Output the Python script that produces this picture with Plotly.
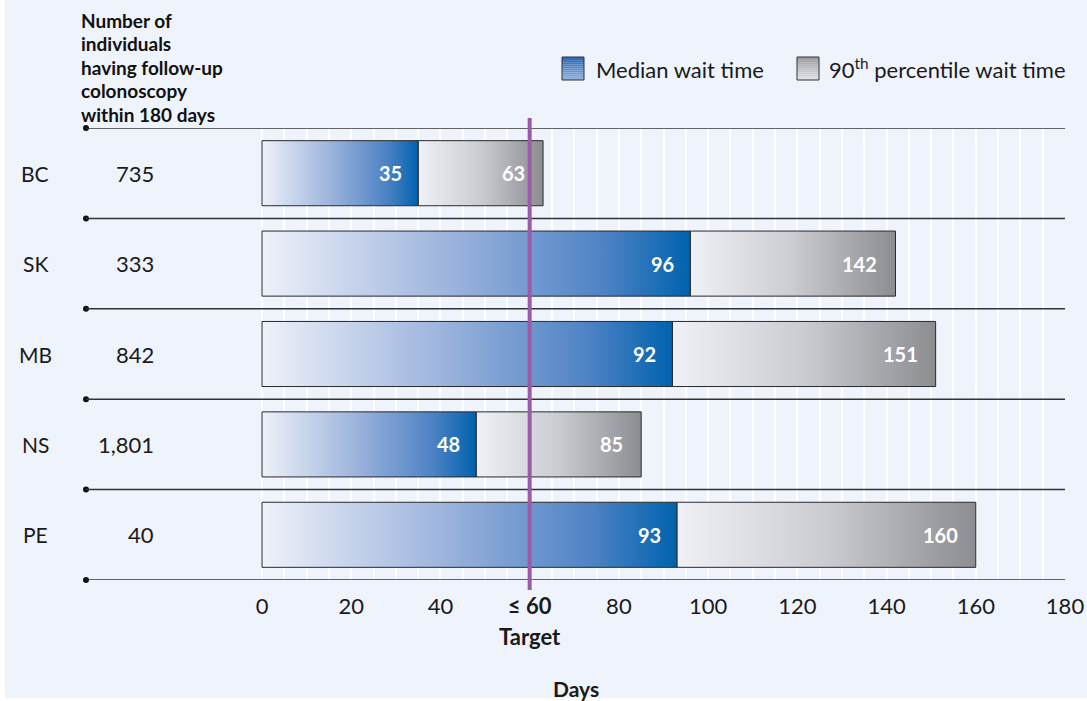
import plotly.graph_objects as go

# ---- data ----
provinces = ["BC", "SK", "MB", "NS", "PE"]
counts = ["735", "333", "842", "1,801", "40"]
median_wait = [35, 96, 92, 48, 93]
p90_wait = [63, 142, 151, 85, 160]
target_days = 60
x_ticks = [0, 20, 40, 60, 80, 100, 120, 140, 160, 180]
x_tick_text = ["0", "20", "40", "<b>≤ 60</b>", "80", "100", "120", "140", "160", "180"]
header_lines = ["Number of", "individuals", "having follow-up", "colonoscopy", "within 180 days"]

# ---- layout geometry (pixels) ----
W, H = 1087, 701
ML, MR, MT, MB = 86, 22, 128, 121
PW, PH = W - ML - MR, H - MT - MB
X_MIN = -(262 - ML) / ((1065 - 262) / 180)   # room on the left for labels
X_MAX = 180
BG = "#eff3fb"
FONT = "Lato"
TXT = "#1a1a1a"


def px_x(p):
    return (p - ML) / PW


def px_y(p):
    return (H - MB - p) / PH


BLUE_SCALE = [[0, "#eef1f9"], [0.45, "#9ab2dc"], [0.8, "#4d82c4"], [1, "#0062ae"]]
GRAY_SCALE = [[0, "#eff1f7"], [0.5, "#cbccd1"], [1, "#8c8d91"]]
HALF = 0.36

fig = go.Figure()

for i, (m, p) in enumerate(zip(median_wait, p90_wait)):
    y0, y1 = i - HALF, i + HALF
    # 90th percentile segment (from median to p90)
    fig.add_trace(go.Scatter(
        x=[m, p, p, m, m], y=[y0, y0, y1, y1, y0], mode="lines",
        fill="toself", fillgradient=dict(type="horizontal", colorscale=GRAY_SCALE),
        line=dict(color="#2a2a2a", width=1), hoverinfo="skip", showlegend=False))
    # median segment (from 0 to median)
    fig.add_trace(go.Scatter(
        x=[0, m, m, 0, 0], y=[y0, y0, y1, y1, y0], mode="lines",
        fill="toself", fillgradient=dict(type="horizontal", colorscale=BLUE_SCALE),
        line=dict(color="#2a2a2a", width=1), hoverinfo="skip", showlegend=False))

# dots at the left end of the row separators
sep_y = [i - 0.5 for i in range(len(provinces) + 1)]
fig.add_trace(go.Scatter(
    x=[X_MIN] * len(sep_y), y=sep_y, mode="markers",
    marker=dict(color="#111", size=6), cliponaxis=False,
    hoverinfo="skip", showlegend=False))

shapes = []
# page background with a thin white edge
shapes.append(dict(type="rect", xref="paper", yref="paper", layer="below",
                   x0=px_x(5), x1=px_x(W + 2), y0=px_y(698), y1=px_y(-2),
                   fillcolor=BG, line=dict(width=0)))
# row separators
for y in sep_y:
    shapes.append(dict(type="line", xref="paper", yref="y", x0=0, x1=1, y0=y, y1=y,
                       line=dict(color="#333", width=1.5), layer="above"))
# target line
shapes.append(dict(type="line", xref="x", yref="paper", x0=target_days, x1=target_days,
                   y0=px_y(590), y1=px_y(118), line=dict(color="#9b5ba6", width=4),
                   layer="above"))


# legend swatches with vertical gradient
def swatch(x0, top, colors):
    n = len(colors)
    h = 23 / n
    for k, c in enumerate(colors):
        shapes.append(dict(type="rect", xref="paper", yref="paper",
                           x0=px_x(x0), x1=px_x(x0 + 22),
                           y0=px_y(top + (k + 1) * h), y1=px_y(top + k * h),
                           fillcolor=c, line=dict(width=0)))
    shapes.append(dict(type="rect", xref="paper", yref="paper",
                       x0=px_x(x0), x1=px_x(x0 + 22), y0=px_y(top + 23), y1=px_y(top),
                       line=dict(color="#333", width=1)))


def lerp_colors(c0, c1, n):
    a = [int(c0[j:j + 2], 16) for j in (1, 3, 5)]
    b = [int(c1[j:j + 2], 16) for j in (1, 3, 5)]
    out = []
    for k in range(n):
        t = k / (n - 1)
        out.append("#%02x%02x%02x" % tuple(round(a[j] + (b[j] - a[j]) * t) for j in range(3)))
    return out


swatch(562, 57, lerp_colors("#2566b5", "#8fb0e0", 12))
swatch(797, 57, lerp_colors("#999a9e", "#dfe0e4", 12))

annotations = []
# header: base size sets the line spacing, spans set the glyph size
header_text = "<br>".join(
    "<span style='font-size:19px'><b>%s</b></span>" % s for s in header_lines)
annotations.append(dict(
    text=header_text, xref="paper", yref="paper",
    x=px_x(79), y=px_y(7), xanchor="left", yanchor="top", align="left",
    showarrow=False, font=dict(family=FONT, size=18, color="#111")))
# legend text
annotations.append(dict(text="Median wait time", xref="paper", yref="paper",
                        x=px_x(594), y=px_y(69), xanchor="left", yanchor="middle",
                        showarrow=False, font=dict(family=FONT, size=22, color=TXT)))
annotations.append(dict(text="90<sup>th</sup> percentile wait time", xref="paper", yref="paper",
                        x=px_x(827), y=px_y(68), xanchor="left", yanchor="middle",
                        showarrow=False, font=dict(family=FONT, size=22, color=TXT)))

for i, name in enumerate(provinces):
    annotations.append(dict(text=name, xref="paper", yref="y", x=px_x(35), y=i,
                            xanchor="center", yanchor="middle", showarrow=False,
                            font=dict(family=FONT, size=21, color=TXT)))
    annotations.append(dict(text=counts[i], xref="paper", yref="y", x=px_x(156), y=i,
                            xanchor="right", yanchor="middle", showarrow=False,
                            font=dict(family=FONT, size=22, color=TXT)))
    annotations.append(dict(text="<b>%d</b>" % median_wait[i], xref="x", yref="y",
                            x=median_wait[i], y=i, xanchor="right", yanchor="middle",
                            xshift=-14, showarrow=False,
                            font=dict(family=FONT, size=20, color="white")))
    annotations.append(dict(text="<b>%d</b>" % p90_wait[i], xref="x", yref="y",
                            x=p90_wait[i], y=i, xanchor="right", yanchor="middle",
                            xshift=-16, showarrow=False,
                            font=dict(family=FONT, size=20, color="white")))

annotations.append(dict(text="<b>Target</b>", xref="x", yref="paper", x=target_days,
                        y=px_y(636), xanchor="center", yanchor="middle", showarrow=False,
                        font=dict(family=FONT, size=22, color=TXT)))
annotations.append(dict(text="<b>Days</b>", xref="paper", yref="paper", x=0.5,
                        y=px_y(688), xanchor="center", yanchor="middle", showarrow=False,
                        font=dict(family=FONT, size=21, color=TXT)))

fig.update_layout(
    width=W, height=H, autosize=False,
    margin=dict(l=ML, r=MR, t=MT, b=MB, pad=0, autoexpand=False),
    paper_bgcolor="white", plot_bgcolor=BG,
    shapes=shapes, annotations=annotations,
    xaxis=dict(range=[X_MIN, X_MAX], tickvals=x_ticks, ticktext=x_tick_text,
               automargin=False,
               showgrid=True, gridcolor="white", gridwidth=1.5, zeroline=False,
               showline=False, ticks="outside", ticklen=7, tickcolor="rgba(0,0,0,0)",
               tickfont=dict(family=FONT, size=22, color=TXT),
               minor=dict(tickvals=list(range(0, 181, 5)), showgrid=True,
                          gridcolor="white", gridwidth=1.5, ticks="")),
    yaxis=dict(range=[len(provinces) - 0.5, -0.5], showticklabels=False, automargin=False,
               showgrid=False, zeroline=False, showline=False, ticks=""),
    font=dict(family=FONT, color=TXT),
)

fig.write_html("out.html")
